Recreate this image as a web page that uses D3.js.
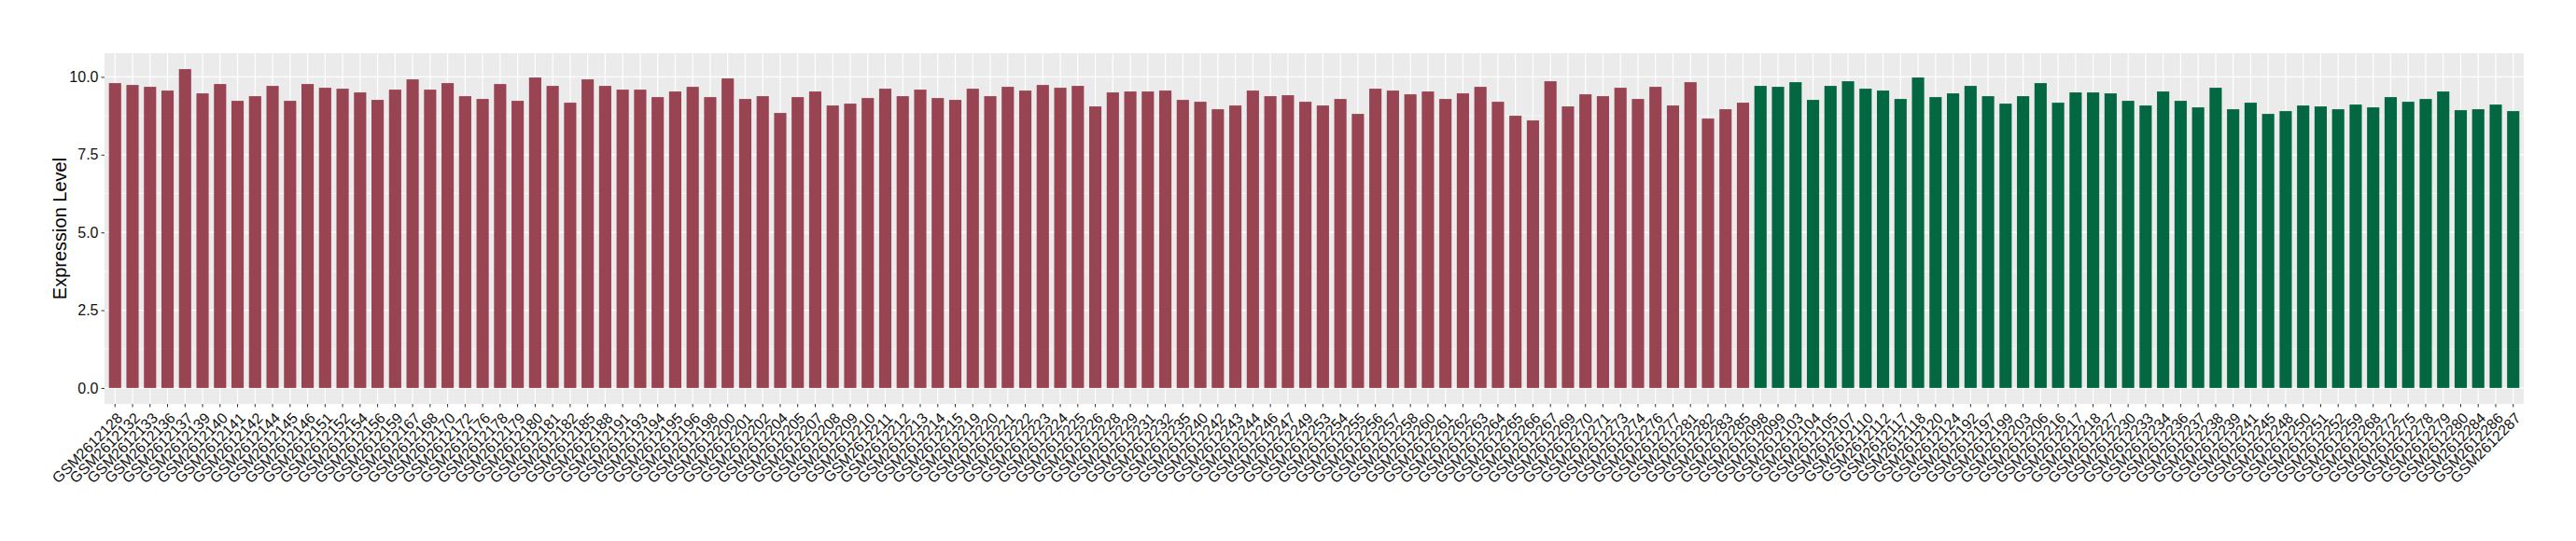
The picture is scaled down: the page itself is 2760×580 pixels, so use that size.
<!DOCTYPE html>
<html>
<head>
<meta charset="utf-8">
<script src="https://cdn.jsdelivr.net/npm/d3@7"></script>
<style>
  body { margin: 0; background: #fff; }
  text { font-family: "Liberation Sans", Arial, sans-serif; }
</style>
</head>
<body>
<div id="chart"></div>
<script>
// samples of the first group (red) and their expression levels
var redSamples = ["GSM2612128","GSM2612132","GSM2612133","GSM2612136","GSM2612137","GSM2612139","GSM2612140","GSM2612141","GSM2612142","GSM2612144",
  "GSM2612145","GSM2612146","GSM2612151","GSM2612152","GSM2612154","GSM2612156","GSM2612159","GSM2612167","GSM2612168","GSM2612170",
  "GSM2612172","GSM2612176","GSM2612178","GSM2612179","GSM2612180","GSM2612181","GSM2612182","GSM2612185","GSM2612188","GSM2612191",
  "GSM2612193","GSM2612194","GSM2612195","GSM2612196","GSM2612198","GSM2612200","GSM2612201","GSM2612202","GSM2612204","GSM2612205",
  "GSM2612207","GSM2612208","GSM2612209","GSM2612210","GSM2612211","GSM2612212","GSM2612213","GSM2612214","GSM2612215","GSM2612219",
  "GSM2612220","GSM2612221","GSM2612222","GSM2612223","GSM2612224","GSM2612225","GSM2612226","GSM2612228","GSM2612229","GSM2612231",
  "GSM2612232","GSM2612235","GSM2612240","GSM2612242","GSM2612243","GSM2612244","GSM2612246","GSM2612247","GSM2612249","GSM2612253",
  "GSM2612254","GSM2612255","GSM2612256","GSM2612257","GSM2612258","GSM2612260","GSM2612261","GSM2612262","GSM2612263","GSM2612264",
  "GSM2612265","GSM2612266","GSM2612267","GSM2612269","GSM2612270","GSM2612271","GSM2612273","GSM2612274","GSM2612276","GSM2612277",
  "GSM2612281","GSM2612282","GSM2612283","GSM2612285"];
var redValues = [9.80,9.74,9.68,9.56,10.25,9.47,9.77,9.23,9.38,9.71,
  9.23,9.77,9.65,9.62,9.50,9.26,9.59,9.92,9.59,9.80,
  9.38,9.29,9.77,9.23,9.98,9.71,9.17,9.92,9.71,9.59,
  9.59,9.35,9.53,9.68,9.35,9.95,9.29,9.38,8.84,9.35,
  9.53,9.08,9.14,9.32,9.62,9.38,9.59,9.32,9.26,9.62,
  9.38,9.68,9.56,9.74,9.65,9.71,9.05,9.50,9.53,9.53,
  9.56,9.26,9.20,8.96,9.08,9.56,9.38,9.41,9.20,9.08,
  9.29,8.81,9.62,9.56,9.44,9.53,9.29,9.47,9.68,9.20,
  8.75,8.60,9.86,9.05,9.44,9.38,9.65,9.29,9.68,9.08,
  9.83,8.66,8.96,9.17];

// samples of the second group (green)
var greenSamples = ["GSM2612098","GSM2612099","GSM2612103","GSM2612104","GSM2612105","GSM2612107","GSM2612110","GSM2612112","GSM2612117","GSM2612118",
  "GSM2612120","GSM2612124","GSM2612192","GSM2612197","GSM2612199","GSM2612203","GSM2612206","GSM2612216","GSM2612217","GSM2612218",
  "GSM2612227","GSM2612230","GSM2612233","GSM2612234","GSM2612236","GSM2612237","GSM2612238","GSM2612239","GSM2612241","GSM2612245",
  "GSM2612248","GSM2612250","GSM2612251","GSM2612252","GSM2612259","GSM2612268","GSM2612272","GSM2612275","GSM2612278","GSM2612279",
  "GSM2612280","GSM2612284","GSM2612286","GSM2612287"];
var greenValues = [9.71,9.68,9.83,9.26,9.71,9.86,9.62,9.56,9.29,9.98,
  9.35,9.47,9.71,9.38,9.14,9.38,9.80,9.17,9.50,9.50,
  9.47,9.23,9.08,9.53,9.23,9.02,9.65,8.96,9.17,8.81,
  8.90,9.08,9.05,8.96,9.11,9.02,9.35,9.20,9.29,9.53,
  8.93,8.96,9.11,8.90];

var yTicks = [0, 2.5, 5, 7.5, 10];
var yMinor = [1.25, 3.75, 6.25, 8.75];
var groupColors = {red: "#994452", green: "#036842"};

var data = redSamples.map(function(s, i) { return {sample: s, value: redValues[i], group: "red"}; })
  .concat(greenSamples.map(function(s, i) { return {sample: s, value: greenValues[i], group: "green"}; }));

// set the dimensions and margins of the graph
var W = 2760, H = 580;
var margin = {top: 57, right: 56, bottom: 147, left: 112},
    width = W - margin.left - margin.right,
    height = H - margin.top - margin.bottom;

var svg = d3.select("#chart")
  .append("svg")
    .attr("width", W)
    .attr("height", H)
  .append("g")
    .attr("transform", "translate(" + margin.left + "," + margin.top + ")");

// X scale (discrete, ggplot style expansion)
var x = d3.scaleBand()
  .domain(data.map(function(d) { return d.sample; }))
  .range([0, width])
  .paddingInner(0.3)
  .paddingOuter(0.25);

var maxV = d3.max(data, function(d) { return d.value; });
var y = d3.scaleLinear()
  .domain([-0.05 * maxV, maxV * 1.05])
  .range([height, 0]);

// panel background
svg.append("rect")
  .attr("width", width)
  .attr("height", height)
  .attr("fill", "#EBEBEB");

// grid lines
svg.selectAll(".minor")
  .data(yMinor)
  .enter().append("line")
    .attr("x1", 0).attr("x2", width)
    .attr("y1", function(d) { return y(d); })
    .attr("y2", function(d) { return y(d); })
    .attr("stroke", "#fff")
    .attr("stroke-width", 0.6);

svg.selectAll(".major")
  .data(yTicks)
  .enter().append("line")
    .attr("x1", 0).attr("x2", width)
    .attr("y1", function(d) { return y(d); })
    .attr("y2", function(d) { return y(d); })
    .attr("stroke", "#fff")
    .attr("stroke-width", 1.2);

svg.selectAll(".vgrid")
  .data(data)
  .enter().append("line")
    .attr("x1", function(d) { return x(d.sample) + x.bandwidth() / 2; })
    .attr("x2", function(d) { return x(d.sample) + x.bandwidth() / 2; })
    .attr("y1", 0).attr("y2", height)
    .attr("stroke", "#fff")
    .attr("stroke-width", 1.2);

// bars
svg.selectAll(".bar")
  .data(data)
  .enter().append("rect")
    .attr("x", function(d) { return x(d.sample); })
    .attr("width", x.bandwidth())
    .attr("y", function(d) { return y(d.value); })
    .attr("height", function(d) { return y(0) - y(d.value); })
    .attr("fill", function(d) { return groupColors[d.group]; });

// Y axis
var yAxis = svg.append("g")
  .call(d3.axisLeft(y).tickValues(yTicks).tickFormat(d3.format(".1f")).tickSize(3.5).tickPadding(3));
yAxis.select(".domain").remove();
yAxis.selectAll(".tick line").attr("stroke", "#333");
yAxis.selectAll(".tick text").attr("font-size", 16).attr("fill", "#111");

// X axis
var xAxis = svg.append("g")
  .attr("transform", "translate(0," + height + ")")
  .call(d3.axisBottom(x).tickSize(3.5).tickPadding(0));
xAxis.select(".domain").remove();
xAxis.selectAll(".tick line").attr("stroke", "#333");
xAxis.selectAll(".tick text")
  .attr("font-size", 16)
  .attr("fill", "#111")
  .attr("text-anchor", "end")
  .attr("x", 0)
  .attr("y", 0)
  .attr("dy", "0.72em")
  .attr("transform", "translate(1,8) rotate(-45)");

// Y axis title
svg.append("text")
  .attr("transform", "translate(" + (64 - margin.left) + "," + (height / 2) + ") rotate(-90)")
  .attr("text-anchor", "middle")
  .attr("dy", "0.35em")
  .attr("font-size", 20)
  .attr("fill", "#000")
  .text("Expression Level");
</script>
</body>
</html>
